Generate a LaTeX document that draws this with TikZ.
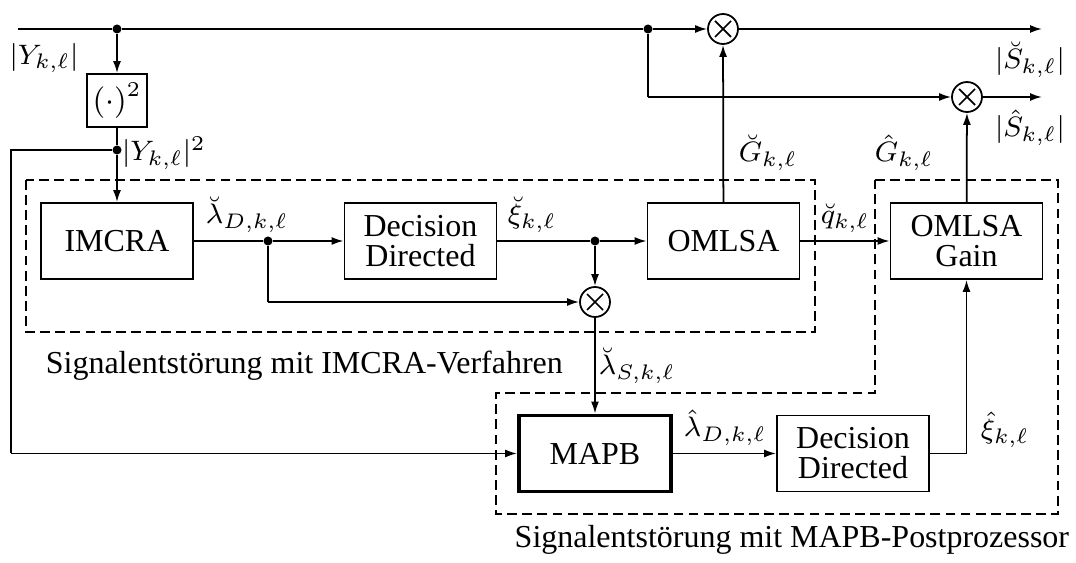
\documentclass[tikz,border=0pt]{standalone}
\usepackage{amsmath, amssymb}
\usepackage[no-math]{fontspec}
\setmainfont{Liberation Serif}
\usepackage{tikz}
\usetikzlibrary{arrows.meta}

\tikzset{
  block/.style={draw, minimum width=1.52cm, minimum height=0.76cm, align=center, inner sep=1pt},
  mult/.style={draw, circle, minimum size=0.3cm, inner sep=0pt,
    path picture={\draw ([shift={(-0.08,-0.08)}]path picture bounding box.center) -- ++(0.16,0.16)
      ([shift={(-0.08,0.08)}]path picture bounding box.center) -- ++(0.16,-0.16);}},
  dot/.style={circle, fill, inner sep=0pt, minimum size=0.09cm},
  dashbox/.style={dash pattern=on 2.8pt off 1.5pt},
  lbl/.style={font=\fontsize{8.1}{9.5}\selectfont, inner sep=0pt},
}

\begin{document}
\begin{tikzpicture}[>={Latex[length=1.2mm,width=0.8mm]}, line width=0.5pt,
    every node/.style={font=\fontsize{9.1}{10.5}\selectfont}]
    \useasboundingbox (0,0) rectangle (10.76,-5.63);
    % upper path
    \coordinate (in) at (0.18,-0.29);
    \node [dot] (J1) at (1.17,-0.29) {};
    \node [dot] (J2) at (6.48,-0.29) {};
    \node [mult] (M1) at (7.23,-0.29) {};
    \coordinate (out1) at (10.42,-0.29);
    \coordinate (C2) at (6.48,-0.97);
    \node [mult] (M2) at (9.67,-0.97) {};
    \coordinate (out2) at (10.42,-0.97);
    \node [draw, minimum width=0.6cm, minimum height=0.53cm, inner sep=1pt] (SQ) at (1.17,-1.005) {$(\cdot)^2$};
    \node [dot] (J3) at (1.17,-1.50) {};
    \coordinate (L1) at (0.11,-1.50);
    \coordinate (L2) at (0.11,-4.535);
    % IMCRA part
    \node [block] (IM) at (1.17,-2.41) {IMCRA};
    \node [dot] (J4) at (2.68,-2.41) {};
    \node [block] (DD1) at (4.205,-2.41) {Decision\\[-2pt]Directed};
    \node [dot] (J5) at (5.95,-2.41) {};
    \node [block] (OM) at (7.235,-2.41) {OMLSA};
    \node [block] (GN) at (9.665,-2.41) {OMLSA\\[-2pt]Gain};
    \coordinate (F1) at (2.68,-3.02);
    \node [mult] (M3) at (5.95,-3.02) {};
    % MAPB part
    \node [block, line width=1.1pt] (MB) at (5.95,-4.535) {MAPB};
    \node [block] (DD2) at (8.53,-4.535) {Decision\\[-2pt]Directed};
    \coordinate (R1) at (9.665,-4.535);
    % frames
    \draw [dashbox] (0.26,-1.80) rectangle (8.15,-3.32);
    \draw [dashbox] (8.75,-1.80) -- (10.58,-1.80) -- (10.58,-5.14) -- (4.96,-5.14) -- (4.96,-3.93) -- (8.75,-3.93) -- cycle;
    \node [anchor=base west, inner sep=0pt] (T1) at (0.45,-3.74) {Signalentstörung mit IMCRA-Verfahren};
    \node [anchor=base east, inner sep=0pt] (T2) at (10.70,-5.48) {Signalentstörung mit MAPB-Postprozessor};
    % connections
    \draw (in) -- (J1);
    \draw (J1) -- (J2);
    \draw [->] (J2) -- (M1);
    \draw [->] (M1) -- (out1);
    \draw (J2) -- (C2);
    \draw [->] (C2) -- (M2);
    \draw [->] (M2) -- (out2);
    \draw [->] (J1) -- (SQ);
    \draw (SQ) -- (J3);
    \draw [->] (J3) -- (IM);
    \draw (J3) -- (L1) -- (L2);
    \draw [->] (L2) -- (MB);
    \draw (IM) -- (J4);
    \draw [->] (J4) -- (DD1);
    \draw (DD1) -- (J5);
    \draw [->] (J5) -- (OM);
    \draw (J4) -- (F1);
    \draw [->] (F1) -- (M3);
    \draw [->] (J5) -- (M3);
    \draw [->] (M3) -- (MB);
    \draw [->] (OM) -- (M1);
    \draw [->] (OM) -- (GN);
    \draw [->] (MB) -- (DD2);
    \draw (DD2) -- (R1);
    \draw [->] (R1) -- (GN);
    \draw [->] (GN) -- (M2);
    % labels
    \node [lbl] (lY) at (0.44,-0.58) {$|Y_{k,\ell}|$};
    \node [lbl] (lY2) at (1.64,-1.53) {$|Y_{k,\ell}|^2$};
    \node [lbl] (lLD) at (2.47,-2.15) {$\breve{\lambda}_{D,k,\ell}$};
    \node [lbl] (lXi) at (5.32,-2.15) {$\breve{\xi}_{k,\ell}$};
    \node [lbl] (lq) at (8.45,-2.18) {$\breve{q}_{k,\ell}$};
    \node [lbl] (lG1) at (7.68,-1.53) {$\breve{G}_{k,\ell}$};
    \node [lbl] (lG2) at (9.04,-1.53) {$\hat{G}_{k,\ell}$};
    \node [lbl] (lS1) at (10.30,-0.60) {$|\breve{S}_{k,\ell}|$};
    \node [lbl] (lS2) at (10.30,-1.28) {$|\hat{S}_{k,\ell}|$};
    \node [lbl] (lLS) at (6.37,-3.66) {$\breve{\lambda}_{S,k,\ell}$};
    \node [lbl] (lLD2) at (7.25,-4.28) {$\hat{\lambda}_{D,k,\ell}$};
    \node [lbl] (lXi2) at (10.05,-4.30) {$\hat{\xi}_{k,\ell}$};
  \end{tikzpicture}
\end{document}
